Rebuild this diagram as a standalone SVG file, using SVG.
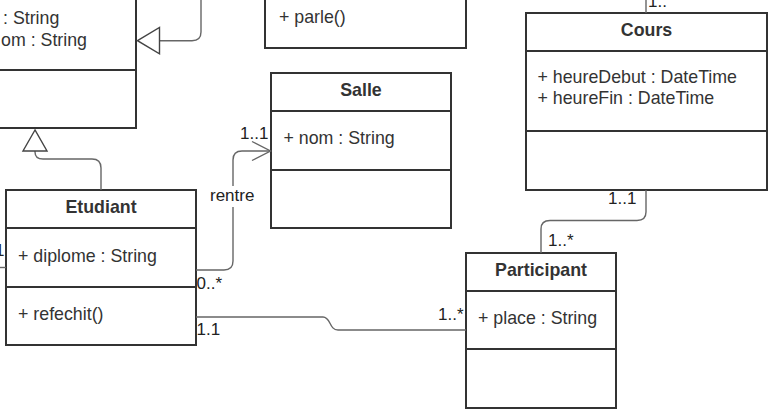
<svg xmlns="http://www.w3.org/2000/svg" width="771" height="413" viewBox="0 0 771 413">
<style>
.box{fill:#fff;stroke:#333;stroke-width:2}
.sep{stroke:#333;stroke-width:2}
.conn{fill:none;stroke:#666;stroke-width:1.4}
.tri{fill:#fff;stroke:#444;stroke-width:1.4}
.t{font-family:"Liberation Sans",Arial,sans-serif;font-size:17.8px;fill:#333}
.h{font-family:"Liberation Sans",Arial,sans-serif;font-size:17.8px;font-weight:bold;fill:#333;text-anchor:middle}
.lbl{font-family:"Liberation Sans",Arial,sans-serif;font-size:17px;fill:#222}
</style>
<rect width="771" height="413" fill="#fff"/>

<g id="personne">
<rect class="box" x="-50" y="-50" width="186" height="178"/>
<line class="sep" x1="-50" y1="70" x2="136" y2="70"/>
<text class="t" x="3" y="24">: String</text>
<text class="t" x="1" y="46">om : String</text>
</g>

<g id="enseignant">
<rect class="box" x="265" y="-30" width="201" height="78"/>
<text class="t" x="279" y="23">+ parle()</text>
</g>

<g id="salle">
<rect class="box" x="271" y="73" width="180" height="155"/>
<line class="sep" x1="271" y1="111" x2="451" y2="111"/>
<line class="sep" x1="271" y1="170" x2="451" y2="170"/>
<text class="h" x="361" y="95.5">Salle</text>
<text class="t" x="283.5" y="144">+ nom : String</text>
</g>

<g id="cours">
<rect class="box" x="526" y="13" width="241" height="177"/>
<line class="sep" x1="526" y1="51" x2="767" y2="51"/>
<line class="sep" x1="526" y1="131" x2="767" y2="131"/>
<text class="h" x="646.5" y="35.5">Cours</text>
<text class="t" x="537.5" y="83">+ heureDebut : DateTime</text>
<text class="t" x="537.5" y="104">+ heureFin : DateTime</text>
</g>

<g id="etudiant">
<rect class="box" x="6" y="190" width="190" height="155"/>
<line class="sep" x1="6" y1="228" x2="196" y2="228"/>
<line class="sep" x1="6" y1="287" x2="196" y2="287"/>
<text class="h" x="101" y="212.5">Etudiant</text>
<text class="t" x="18" y="262">+ diplome : String</text>
<text class="t" x="18" y="320">+ refechit()</text>
</g>

<g id="participant">
<rect class="box" x="466" y="253" width="150" height="155"/>
<line class="sep" x1="466" y1="291" x2="616" y2="291"/>
<line class="sep" x1="466" y1="349" x2="616" y2="349"/>
<text class="h" x="541" y="275.5">Participant</text>
<text class="t" x="478" y="324">+ place : String</text>
</g>

<g id="connectors">
<path class="conn" d="M159.5,40.7 H192 Q201,40.7 201,32 V0"/>
<polygon class="tri" points="137.5,40.7 159.5,27.5 159.5,53.8"/>
<path class="conn" d="M35,151 V152 Q35,159 43,159 H92 Q101,159 101,168 V190"/>
<polygon class="tri" points="35,130 23,151 47,151"/>
<path class="conn" d="M196,270 H224 Q233,270 233,261 V160 Q233,151 242,151 H270"/>
<path class="conn" d="M252,141.5 L270.5,151 L252,160.5"/>
<rect x="208" y="186" width="50" height="21" fill="#fff"/>
<text class="lbl" x="210" y="201">rentre</text>
<text class="lbl" x="240" y="139">1..1</text>
<text class="lbl" x="196.5" y="288.5">0..*</text>
<path class="conn" d="M196,317 H323 C331,317 329,330 338,330 H466"/>
<text class="lbl" x="196.5" y="335">1.1</text>
<text class="lbl" x="438" y="320">1..*</text>
<path class="conn" d="M646,190 V212 Q646,220.5 637,220.5 H550 Q541,220.5 541,229 V253"/>
<text class="lbl" x="608" y="204">1..1</text>
<text class="lbl" x="548" y="245.5">1..*</text>
<path class="conn" d="M646,0 V13"/>
<text class="lbl" x="648" y="7">1..</text>
<path class="conn" d="M0,267.5 H6"/>
<text class="lbl" x="4.5" y="256" text-anchor="end">1</text>
</g>
</svg>
